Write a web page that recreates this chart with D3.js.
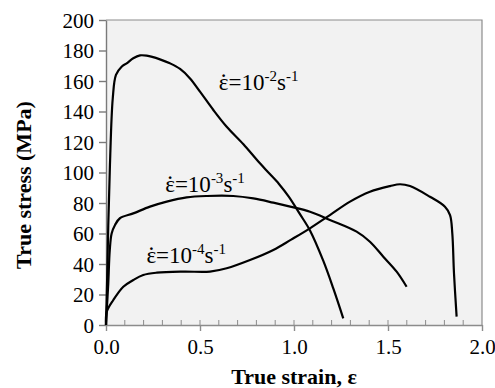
<!DOCTYPE html>
<html><head><meta charset="utf-8">
<script src="https://cdn.jsdelivr.net/npm/d3@7"></script>
</head><body style="margin:0">
<svg id="s" width="495" height="388"></svg>
<script>
const xTicks = [0.0, 0.5, 1.0, 1.5, 2.0];
const yTicks = [0, 20, 40, 60, 80, 100, 120, 140, 160, 180, 200];
// strain rate 10^-2 s^-1
const rate2 = [[0,0],[0.006,30],[0.012,65],[0.021,105],[0.036,148.7],[0.053,164],[0.083,169.4],[0.11,171.6],[0.145,174.9],[0.181,176.8],[0.216,176.6],[0.287,174.2],[0.34,171.6],[0.394,167.9],[0.447,161.7],[0.5,153],[0.571,141],[0.642,130],[0.731,118.5],[0.801,108.5],[0.86,100.5],[0.92,92.5],[0.973,84],[1.03,73],[1.085,62],[1.156,42],[1.209,24],[1.262,4.4]];
// strain rate 10^-3 s^-1
const rate3 = [[0,0],[0.006,14],[0.012,27],[0.02,49],[0.03,60],[0.048,65.6],[0.074,70],[0.145,73.2],[0.234,77.6],[0.323,80.9],[0.429,83.7],[0.536,84.6],[0.677,84.6],[0.784,83],[0.89,80.2],[0.98,77.6],[1.085,74.3],[1.191,68.9],[1.333,61.2],[1.404,54.6],[1.475,44.8],[1.546,35],[1.599,25.1]];
// strain rate 10^-4 s^-1
const rate4 = [[0,0],[0.004,8.7],[0.039,16.4],[0.092,25.1],[0.145,29.5],[0.198,32.8],[0.27,34.3],[0.411,35],[0.553,35],[0.642,37.2],[0.766,42.6],[0.89,49.2],[0.985,56],[1.085,63.4],[1.191,72.1],[1.298,80.9],[1.404,87.4],[1.511,91.1],[1.564,92.3],[1.617,91.1],[1.723,84.1],[1.803,77.6],[1.83,72.1],[1.842,60.1],[1.851,33.9],[1.865,5.5]];
const labelExps = ["-2", "-3", "-4"];
const labelStrain = [0.6, 0.315, 0.215];
const labelStress = [154, 87, 40.5];

const FF = '"Times New Roman"';
const W = 495, H = 388;
const m = {l:106, r:13, t:20, b:63};
const svg = d3.select("#s");
const x = d3.scaleLinear().domain([0,2]).range([m.l, W-m.r]);
const y = d3.scaleLinear().domain([0,200]).range([H-m.b, m.t]);
const ser = (sel, size) => sel.style("font-family", FF).style("font-size", size + "px");

svg.append("rect").attr("x", x(0)).attr("y", y(200)).attr("width", x(2)-x(0)).attr("height", y(0)-y(200)).attr("fill", "#f2f2f2");

// texts first
ser(svg.append("text").attr("x", (x(0)+x(2))/2).attr("y", 384).attr("text-anchor","middle"), 22)
  .style("font-weight","bold").text("True strain, \u03B5");
ser(svg.append("text").attr("transform", `translate(31,185) rotate(-90)`).attr("text-anchor","middle"), 22)
  .style("font-weight","bold").text("True stress (MPa)");

labelExps.forEach((e,i)=>{
  const px = x(labelStrain[i]), py = y(labelStress[i]);
  const t = ser(svg.append("text").attr("x", px).attr("y", py), 23);
  const eps = t.append("tspan").text("\u03B5");
  t.append("tspan").text("=10");
  t.append("tspan").attr("dy", -9).style("font-size", "15px").text(e);
  t.append("tspan").attr("dy", 9).text("s");
  t.append("tspan").attr("dy", -9).style("font-size", "15px").text("-1");
  const ew = eps.node().getComputedTextLength();
  ser(svg.append("text").attr("x", px + ew/2).attr("y", py - 13).attr("text-anchor","middle"), 23).text(".");
});

svg.append("path").attr("d", `M${x(0)},${y(200)}H${x(2)}V${y(0)}`).attr("fill","none").attr("stroke","#8c8c8c").attr("stroke-width",1.2);

const minor = d3.range(1,20).map(i=>i/10);
svg.append("g").selectAll("line").data(minor).join("line")
  .attr("x1", d=>x(d)).attr("x2", d=>x(d)).attr("y1", y(0)).attr("y2", y(0)-5)
  .attr("stroke", "#8c8c8c").attr("stroke-width", 1);

const gx = svg.append("g").attr("transform", `translate(0,${y(0)})`)
  .call(d3.axisBottom(x).tickValues(xTicks).tickFormat(d3.format(".1f")).tickSizeInner(6).tickSizeOuter(0).tickPadding(8));
gx.attr("font-family", null).attr("font-size", null);
gx.selectAll("path,line").attr("stroke","#8c8c8c").attr("stroke-width",1.4);
ser(gx.selectAll("text"), 21).attr("fill","#000");

const gy = svg.append("g").attr("transform", `translate(${x(0)},0)`)
  .call(d3.axisLeft(y).tickValues(yTicks).tickSizeInner(7).tickSizeOuter(0).tickPadding(5));
gy.attr("font-family", null).attr("font-size", null);
gy.selectAll("path,line").attr("stroke","#7a7a7a").attr("stroke-width",1.4);
ser(gy.selectAll("text"), 21).attr("fill","#000").attr("dy","0.34em");

const lineC = d3.line().x(d=>x(d[0])).y(d=>y(d[1])).curve(d3.curveCatmullRom.alpha(0.5));
[rate2, rate3, rate4].forEach(s=>{
  svg.append("path").datum(s).attr("d", lineC).attr("fill","none").attr("stroke","#000").attr("stroke-width",2.2).attr("stroke-linejoin","round");
});
</script></body></html>
